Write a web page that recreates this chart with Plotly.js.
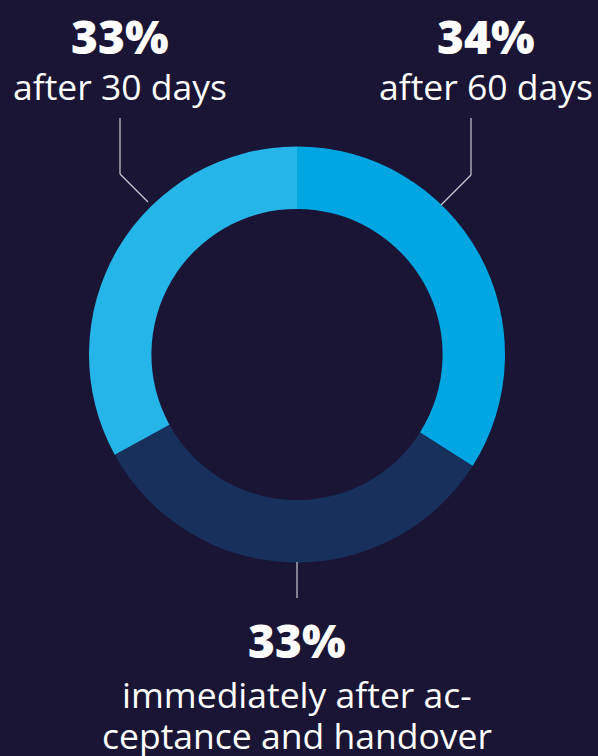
<!DOCTYPE html>
<html>
<head>
<meta charset="utf-8">
<script src="https://cdn.plot.ly/plotly-3.0.1.min.js"></script>
<style>
html,body{margin:0;padding:0;background:#1a1535;}
#chart{width:598px;height:756px;}
</style>
</head>
<body>
<div id="chart"></div>
<script>
const categories = ["after 60 days", "immediately after acceptance and handover", "after 30 days"];
const values = [34, 33, 33];
const pctLabels = ["34%", "33%", "33%"];
const descLines = [["after 60 days"], ["immediately after ac-", "ceptance and handover"], ["after 30 days"]];
const colors = ["#00a6e1", "#17305c", "#26b5e9"];

const W = 598, H = 756;
const bg = "#1a1535";
const font = "'Open Sans', Lato, sans-serif";

// label placement (pixels, centre of each text line) per slice
const labelPos = [
  {x: 486, yp: 36.5, yd: [86]},
  {x: 297, yp: 640, yd: [694, 735]},
  {x: 120, yp: 36.5, yd: [86]}
];
const leaders = [
  [[471,118],[471,175],[441,205]],
  [[297,562],[297,598]],
  [[120,118],[120,174],[148,202]]
];

const px = x => x / W;
const py = y => 1 - y / H;

const annotations = [];
const shapes = [];
categories.forEach((c, i) => {
  const p = labelPos[i];
  annotations.push({
    xref: "paper", yref: "paper", x: px(p.x), y: py(p.yp),
    xanchor: "center", yanchor: "middle", showarrow: false,
    text: pctLabels[i],
    font: {family: font, size: 46, color: "#ffffff", weight: 800}
  });
  descLines[i].forEach((t, k) => {
    annotations.push({
      xref: "paper", yref: "paper", x: px(p.x), y: py(p.yd[k]),
      xanchor: "center", yanchor: "middle", showarrow: false,
      text: t,
      font: {family: font, size: 35.5, color: "#ffffff", weight: 400}
    });
  });
  const pts = leaders[i];
  for (let k = 0; k < pts.length - 1; k++) {
    shapes.push({
      type: "line", xref: "paper", yref: "paper",
      x0: px(pts[k][0]), y0: py(pts[k][1]), x1: px(pts[k+1][0]), y1: py(pts[k+1][1]),
      line: {color: "#c9c9d3", width: 1.2}
    });
  }
});

const cx = 297, cy = 354.5, R = 208;
const trace = {
  type: "pie",
  values: values,
  labels: categories,
  sort: false,
  direction: "clockwise",
  rotation: 0,
  hole: 0.70,
  textinfo: "none",
  hoverinfo: "label+percent",
  marker: {colors: colors, line: {width: 0}},
  domain: {x: [px(cx - R), px(cx + R)], y: [py(cy + R), py(cy - R)]},
  showlegend: false
};

const layout = {
  width: W, height: H,
  margin: {l: 0, r: 0, t: 0, b: 0},
  paper_bgcolor: bg,
  plot_bgcolor: bg,
  showlegend: false,
  annotations: annotations,
  shapes: shapes
};

Plotly.newPlot("chart", [trace], layout, {displayModeBar: false, staticPlot: true});
</script>
</body>
</html>
